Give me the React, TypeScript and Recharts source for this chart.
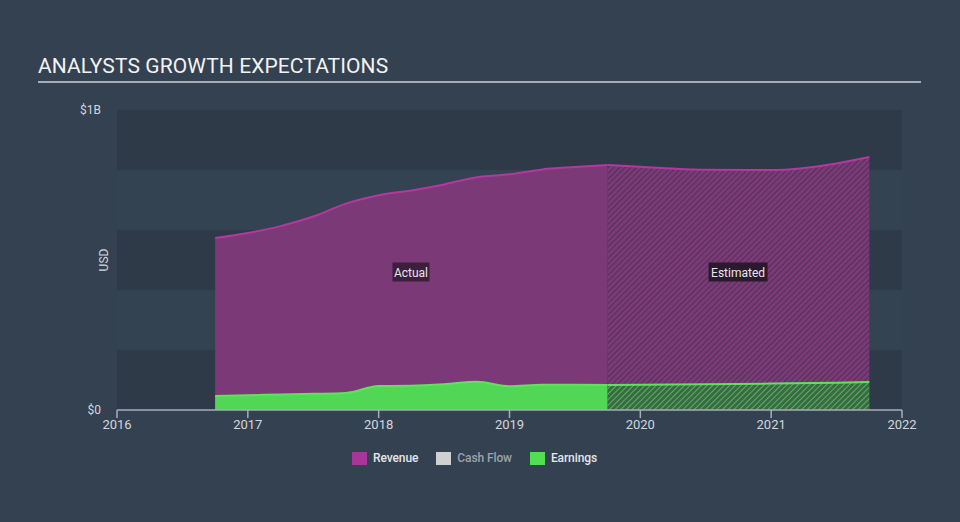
import React from 'react';
import {
  ComposedChart, Area, XAxis, YAxis, ReferenceArea, ReferenceDot,
} from 'recharts';

// ---- data ----
const years = [2016.75, 2017.0, 2017.25, 2017.5, 2017.75, 2018.0, 2018.25, 2018.5, 2018.75, 2019.0, 2019.25, 2019.5, 2019.75, 2020.0, 2020.5, 2021.0, 2021.5, 2021.75];
const revenueActual = [573, 590, 613, 645, 688, 716, 732, 752, 776, 786, 802, 810, 817, null, null, null, null, null];
const revenueEstimate = [null, null, null, null, null, null, null, null, null, null, null, null, 817, 811, 801, 800, 822, 843];
const earningsActual = [47, 49, 52, 54, 57, 80, 81, 86, 94, 79, 84, 84, 83, null, null, null, null, null];
const earningsEstimate = [null, null, null, null, null, null, null, null, null, null, null, null, 83, 84, 86, 88, 91, 93];
const xTicks = [2016, 2017, 2018, 2019, 2020, 2021, 2022];
const yTicks = [0, 1000];
const bands = [
  [0, 200, 'dark'], [200, 400, 'light'], [400, 600, 'dark'], [600, 800, 'light'], [800, 1000, 'dark'],
] as const;
const legendItems = [
  { name: 'Revenue', color: '#a8359a', text: '#e3e6ea' },
  { name: 'Cash Flow', color: '#d0d0d0', text: '#9ba3ad' },
  { name: 'Earnings', color: '#52e052', text: '#e3e6ea' },
];

const data = years.map((x, i) => ({
  x,
  revA: revenueActual[i],
  revE: revenueEstimate[i],
  earnA: earningsActual[i],
  earnE: earningsEstimate[i],
}));

const FONT = 'Roboto, "Open Sans", sans-serif';

const Tag = (label: string, w: number, bg: string) => (p: any) => (
  <g>
    <rect x={p.cx - w / 2} y={p.cy - 9.5} width={w} height={19} fill={bg} />
    <text x={p.cx} y={p.cy + 4.5} textAnchor="middle" fill="#e6e6ea" fontSize={12} fontFamily={FONT}>{label}</text>
  </g>
);

const LegendContent = () => (
  <div style={{ display: 'flex', gap: 18, fontFamily: FONT, fontSize: 12, fontWeight: 500, letterSpacing: -0.1 }}>
    {legendItems.map((it) => (
      <div key={it.name} style={{ display: 'flex', alignItems: 'center' }}>
        <span style={{ width: 15, height: 13, background: it.color, display: 'inline-block', marginRight: 6 }} />
        <span style={{ color: it.text }}>{it.name}</span>
      </div>
    ))}
  </div>
);

export default function App() {
  return (
    <div style={{ position: 'absolute', left: 0, top: 0, width: 960, height: 522, background: '#344151', overflow: 'hidden' }}>
      <div style={{ position: 'absolute', left: 38, top: 54, fontFamily: FONT, fontSize: 21, color: '#f2f2f2', letterSpacing: 0.1 }}>
        ANALYSTS GROWTH EXPECTATIONS
      </div>
      <div style={{ position: 'absolute', left: 38, top: 81, width: 883, height: 2, background: '#a5adb7' }} />
      <div style={{ position: 'absolute', left: 0, top: 0 }}>
        <ComposedChart width={960} height={440} data={data} margin={{ top: 110, right: 58, left: 0, bottom: 0 }}>
          <defs>
            <pattern id="hatchRev" patternUnits="userSpaceOnUse" width="4" height="4" patternTransform="rotate(45)">
              <rect width="4" height="4" fill="#7b3a77" />
              <line x1="0" y1="0" x2="0" y2="4" stroke="#4a3152" strokeWidth="1.8" />
            </pattern>
            <pattern id="hatchEarn" patternUnits="userSpaceOnUse" width="4" height="4" patternTransform="rotate(45)">
              <rect width="4" height="4" fill="#3c6848" />
              <line x1="0" y1="0" x2="0" y2="4" stroke="#57cc58" strokeWidth="1.6" />
            </pattern>
          </defs>
          {bands.map(([a, b, k]) => (
            <ReferenceArea key={a} x1={2016} x2={2022} y1={a} y2={b} fill={k === 'dark' ? '#2e3a48' : '#344352'} fillOpacity={1} stroke="none" />
          ))}
          <XAxis
            dataKey="x" type="number" domain={[2016, 2022]} ticks={xTicks} allowDataOverflow
            axisLine={{ stroke: '#a6aeb9', strokeWidth: 1.5 }} tickLine={{ stroke: '#a6aeb9', strokeWidth: 1.5 }} tickSize={8}
            tick={{ fill: '#d3d7dc', fontSize: 13, fontFamily: FONT }} height={30} interval={0}
          />
          <YAxis
            type="number" domain={[0, 1000]} ticks={yTicks} width={117} axisLine={false} tickLine={false} tickSize={0} tickMargin={16}
            tick={{ fill: '#d3d7dc', fontSize: 12, fontFamily: FONT }}
            tickFormatter={(v: number) => (v === 0 ? '$0' : '$1B')}
            label={{ value: 'USD', angle: -90, position: 'center', dx: 45, fill: '#d3d7dc', fontSize: 12, fontFamily: FONT }}
          />
          <Area type="monotone" dataKey="revA" stroke="#b4389f" strokeWidth={2} fill="#7b3a77" fillOpacity={1} isAnimationActive={false} connectNulls={false} dot={false} activeDot={false} />
          <Area type="monotone" dataKey="revE" stroke="#b4389f" strokeWidth={2} fill="url(#hatchRev)" fillOpacity={1} isAnimationActive={false} connectNulls={false} dot={false} activeDot={false} />
          <Area type="monotone" dataKey="earnA" stroke="#5ee35c" strokeWidth={2} fill="#52d655" fillOpacity={1} isAnimationActive={false} connectNulls={false} dot={false} activeDot={false} />
          <Area type="monotone" dataKey="earnE" stroke="#5ee35c" strokeWidth={2} fill="url(#hatchEarn)" fillOpacity={1} isAnimationActive={false} connectNulls={false} dot={false} activeDot={false} />
          <ReferenceDot x={2018.247} y={460} r={0} shape={Tag('Actual', 37, '#3d1f3d')} />
          <ReferenceDot x={2020.747} y={460} r={0} shape={Tag('Estimated', 59, '#2b1a2d')} />
        </ComposedChart>
      </div>
      <div style={{ position: 'absolute', left: 352, top: 451 }}>
        <LegendContent />
      </div>
    </div>
  );
}
